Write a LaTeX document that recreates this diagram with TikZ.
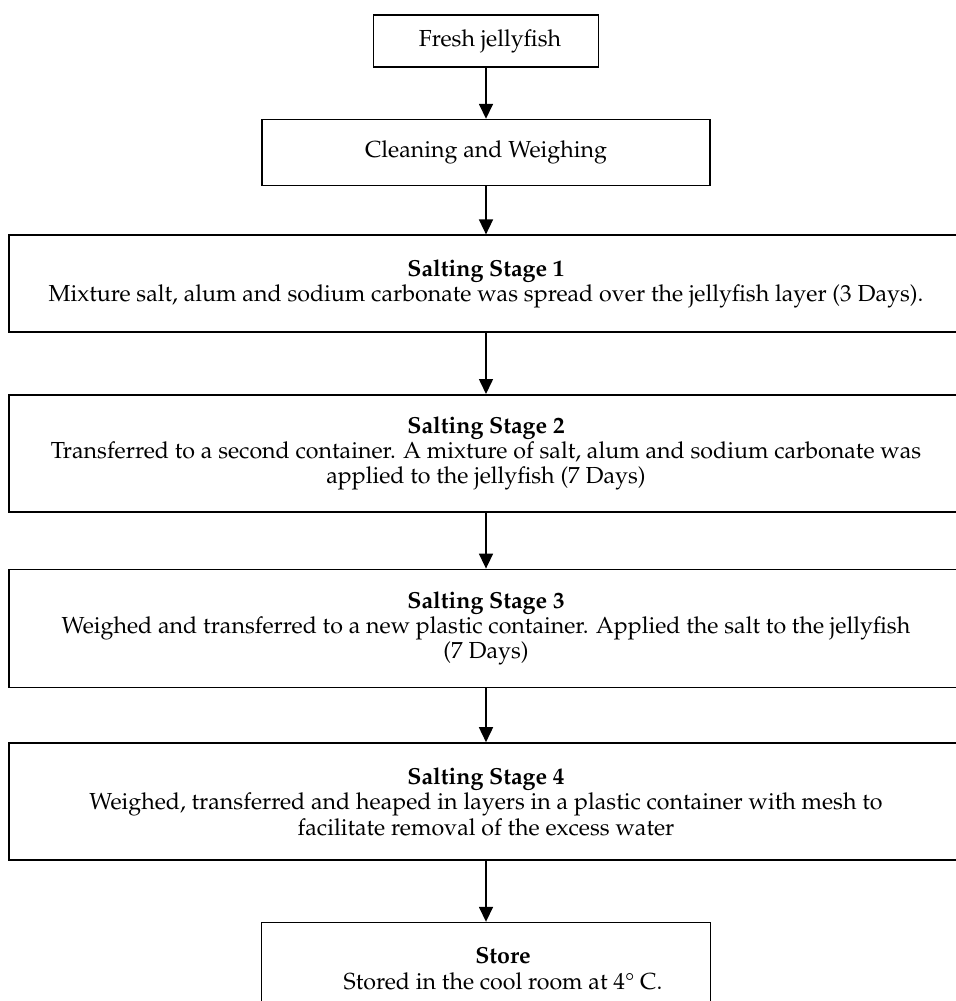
\documentclass[tikz,border=0pt]{standalone}
\usepackage[T1]{fontenc}
\usepackage{mathpazo}
\usepackage{textcomp}
\usetikzlibrary{arrows.meta, positioning}

\begin{document}
\begin{tikzpicture}[
    x=0.5pt, y=-0.5pt,
    font=\fontsize{11.6}{12.7}\selectfont,
    every node/.style={draw, line width=0.8pt, align=center, inner sep=2pt},
    stagebox/.style={minimum width=477pt, minimum height=58.5pt},
    flow/.style={draw, line width=0.8pt, -{Triangle[length=7.5pt, width=7pt]}}
    ]

    \useasboundingbox (0,0) rectangle (956,1001);
    \clip (0,0) rectangle (956,1001);

    % Nodes
    \node (fresh) [minimum width=112.5pt, minimum height=26pt] at (486,41) {\hspace*{4pt}Fresh jellyfish};
    \node (clean) [below=25.5pt of fresh, minimum width=224pt, minimum height=33pt] {Cleaning and Weighing};

    \node (stageA) [below=24pt of clean, stagebox, minimum height=48.5pt]
        {\textbf{Salting Stage 1}\\Mixture salt, alum and sodium carbonate was spread over the jellyfish layer (3 Days).};
    \node (stageB) [below=30.5pt of stageA, stagebox]
        {\textbf{Salting Stage 2}\\Transferred to a second container. A mixture of salt, alum and sodium carbonate was\\applied to the jellyfish (7 Days)};
    \node (stageC) [below=28pt of stageB, stagebox, minimum height=59pt]
        {\textbf{Salting Stage 3}\\Weighed and transferred to a new plastic container. Applied the salt to the jellyfish\\(7 Days)};
    \node (stageD) [below=27pt of stageC, stagebox]
        {\textbf{Salting Stage 4}\\Weighed, transferred and heaped in layers in a plastic container with mesh to\\facilitate removal of the excess water};

    \node (store) [below=30.5pt of stageD, minimum width=224.5pt, minimum height=46pt]
        {\hspace*{17pt}\textbf{Store}\\\hspace*{17pt}Stored in the cool room at 4\textdegree{} C.};

    % Edges
    \draw[flow] (fresh) -- (clean);
    \draw[flow] (clean) -- (stageA);
    \draw[flow] (stageA) -- (stageB);
    \draw[flow] (stageB) -- (stageC);
    \draw[flow] (stageC) -- (stageD);
    \draw[flow] (stageD) -- (store);

\end{tikzpicture}
\end{document}
